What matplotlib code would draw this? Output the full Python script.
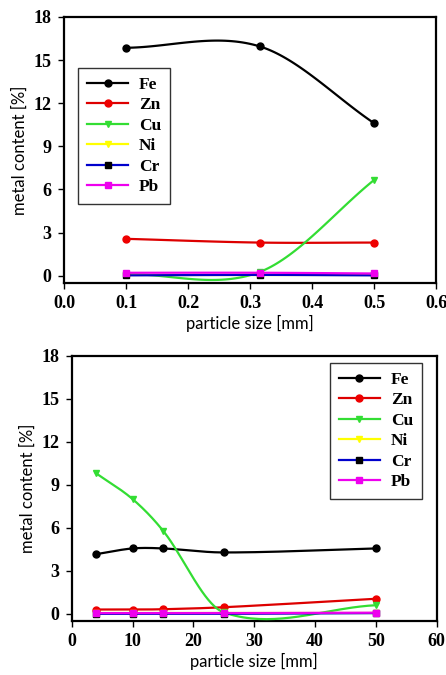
import numpy as np
import matplotlib
matplotlib.use('Agg')
import matplotlib.pyplot as plt
from matplotlib.lines import Line2D

# ---------------- data ----------------
metals = ['Fe', 'Zn', 'Cu', 'Ni', 'Cr', 'Pb']

size_fine = [0.1, 0.315, 0.5]          # mm
fe_fine = [15.85, 15.95, 10.6]
zn_fine = [2.56, 2.3, 2.3]
cu_fine = [0.1, 0.25, 6.66]
ni_fine = [0.05, 0.05, 0.05]
cr_fine = [0.02, 0.05, 0.02]
pb_fine = [0.2, 0.2, 0.15]

size_coarse = [4, 10, 15, 25, 50]      # mm
fe_coarse = [4.16, 4.56, 4.56, 4.28, 4.56]
zn_coarse = [0.3, 0.3, 0.32, 0.46, 1.05]
cu_coarse = [9.8, 8.0, 5.8, 0.1, 0.6]
ni_coarse = [0.05, 0.05, 0.05, 0.05, 0.05]
cr_coarse = [0.0, 0.0, 0.0, 0.0, 0.05]
pb_coarse = [0.05, 0.05, 0.05, 0.05, 0.08]

line_colors = ['#000000', '#dd0000', '#33dd33', '#ffff00', '#0000cc', '#ee00ee']
marker_face = ['#000000', '#ee0000', '#33dd33', '#ffff00', '#000000', '#ee00ee']
marker_kind = ['o', 'o', 'v', 'v', 's', 's']


def smooth(x, y, n=40):
    # Hermite curve through the points, central-difference tangents
    x = np.asarray(x, float)
    y = np.asarray(y, float)
    m = np.zeros_like(y)
    m[0] = (y[1] - y[0]) / (x[1] - x[0])
    m[-1] = (y[-1] - y[-2]) / (x[-1] - x[-2])
    for i in range(1, len(x) - 1):
        m[i] = (y[i + 1] - y[i - 1]) / (x[i + 1] - x[i - 1])
    xs, ys = [], []
    for i in range(len(x) - 1):
        h = x[i + 1] - x[i]
        t = np.linspace(0, 1, n)
        h00 = 2 * t**3 - 3 * t**2 + 1
        h10 = t**3 - 2 * t**2 + t
        h01 = -2 * t**3 + 3 * t**2
        h11 = t**3 - t**2
        xs.append(x[i] + t * h)
        ys.append(h00 * y[i] + h10 * h * m[i] + h01 * y[i + 1] + h11 * h * m[i + 1])
    return np.concatenate(xs), np.concatenate(ys)


def panel(ax, xdata, series, xlim, xticks, xfmt, leg_anchor, leg_loc):
    for k in range(len(series)):
        xs, ys = smooth(xdata, series[k])
        ax.plot(xs, ys, color=line_colors[k], lw=1.6, zorder=2 + k)
        ax.plot(xdata, series[k], ls='none', marker=marker_kind[k], ms=5,
                mfc=marker_face[k], mec=marker_face[k], zorder=2 + k)
    ax.set_xlim(xlim)
    ax.set_ylim(-0.5, 18)
    ax.set_xticks(xticks)
    ax.set_xticklabels([xfmt % v for v in xticks])
    ax.set_yticks(np.arange(0, 19, 3))
    for lab in ax.get_xticklabels() + ax.get_yticklabels():
        lab.set_fontfamily('Liberation Serif')
        lab.set_fontweight('bold')
        lab.set_fontsize(13)
    ax.tick_params(direction='out', length=4, width=1, top=False, right=False, pad=5)
    for sp in ax.spines.values():
        sp.set_linewidth(1.6)
    ax.set_xlabel('particle size [mm]', fontfamily='Lato', fontsize=12, labelpad=2)
    ax.set_ylabel('metal content [%]', fontfamily='Lato', fontsize=12, labelpad=4)

    handles = [Line2D([], [], color=line_colors[k], lw=1.6, marker=marker_kind[k], ms=5,
                      mfc=marker_face[k], mec=marker_face[k]) for k in range(len(metals))]
    leg = ax.legend(handles, metals, loc=leg_loc, bbox_to_anchor=leg_anchor,
                    prop={'family': 'Liberation Serif', 'weight': 'bold', 'size': 12.5},
                    frameon=True, fancybox=False, edgecolor='#333333', framealpha=1,
                    handlelength=2.4, labelspacing=0.25, borderpad=0.5, handletextpad=0.6,
                    borderaxespad=0)
    leg.get_frame().set_linewidth(1.0)


fig = plt.figure(figsize=(4.46, 6.75), dpi=100)

ax1 = fig.add_axes([0.144, 0.581, 0.834, 0.394])
panel(ax1, size_fine, [fe_fine, zn_fine, cu_fine, ni_fine, cr_fine, pb_fine],
      (0, 0.6), [0.0, 0.1, 0.2, 0.3, 0.4, 0.5, 0.6], '%.1f', (0.037, 0.808), 'upper left')

ax2 = fig.add_axes([0.161, 0.08, 0.818, 0.393])
panel(ax2, size_coarse, [fe_coarse, zn_coarse, cu_coarse, ni_coarse, cr_coarse, pb_coarse],
      (0, 60), [0, 10, 20, 30, 40, 50, 60], '%d', (0.959, 0.972), 'upper right')

fig.savefig('out.png', dpi=100)
